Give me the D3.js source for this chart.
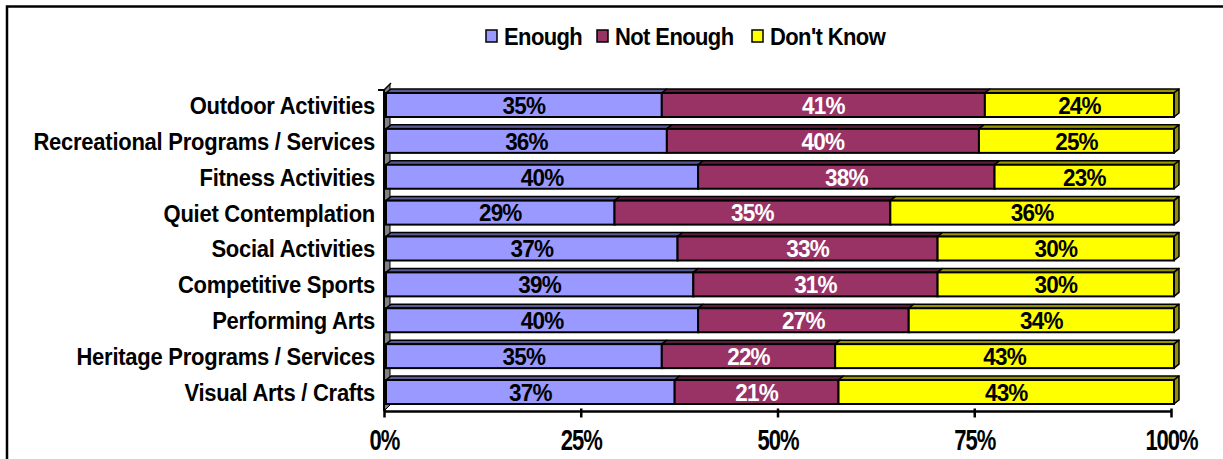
<!DOCTYPE html>
<html><head><meta charset="utf-8">
<script src="https://cdn.jsdelivr.net/npm/d3@7"></script>
<style>
body{margin:0;background:#fff}
text{font-family:"Liberation Sans",Arial,sans-serif;font-weight:bold}
</style></head>
<body><svg id="c" width="1223" height="459"></svg>
<script>
const categories = ["Outdoor Activities","Recreational Programs / Services","Fitness Activities","Quiet Contemplation","Social Activities","Competitive Sports","Performing Arts","Heritage Programs / Services","Visual Arts / Crafts"];
const enough    = [35,36,40,29,37,39,40,35,37];
const notEnough = [41,40,38,35,33,31,27,22,21];
const dontKnow  = [24,25,23,36,30,30,34,43,43];
const seriesNames = ["Enough","Not Enough","Don't Know"];
const seriesColors = ["#9999FF","#993366","#FFFF00"];
const labelColors = ["#000","#fff","#000"];
const tickValues = [0,0.25,0.5,0.75,1];

const svg = d3.select("#c");

// frame
svg.append("rect").attr("x",7).attr("y",6.5).attr("width",1240).attr("height",480)
  .attr("fill","none").attr("stroke","#000").attr("stroke-width",2.5);

const xAxisScale = d3.scaleLinear().domain([0,1]).range([384,1171]);
const xBar = d3.scaleLinear().domain([0,1]).range([386,1174]);
const y = d3.scaleBand().domain(categories).range([87.06,409.94]).paddingInner(0.331).paddingOuter(0.1655);
const dx = 5, dy = -4;

function stretchText(sel, x, yy, sy){
  sel.attr("transform",`translate(${x},${yy}) scale(1,${sy})`);
  return sel;
}

// left wall
const wall = svg.append("g");
wall.append("polygon")
  .attr("points",[[384,411],[384+6,411-6],[384+6,84],[384,90]].map(p=>p.join(",")).join(" "))
  .attr("fill","#808080").attr("stroke","#000").attr("stroke-width",1);
wall.append("line").attr("x1",384).attr("x2",384).attr("y1",90).attr("y2",411).attr("stroke","#000").attr("stroke-width",2);
wall.append("line").attr("x1",378).attr("x2",384).attr("y1",90).attr("y2",90).attr("stroke","#000").attr("stroke-width",2);
wall.append("line").attr("x1",384).attr("x2",391).attr("y1",90).attr("y2",83).attr("stroke","#000").attr("stroke-width",1.5);

const series = [enough, notEnough, dontKnow];
const rows = categories.map((c,i)=>{
  const vals = series.map(s=>s[i]);
  const sum = d3.sum(vals);
  let acc = 0;
  return vals.map((v,k)=>{ const s0 = acc/sum; acc += v; return {cat:c, k, v, x0:s0, x1:acc/sum}; });
});

const bars = svg.append("g");
rows.forEach(segs=>{
  const g = bars.append("g");
  segs.forEach(d=>{
    const yt = y(d.cat), h = y.bandwidth();
    const xa = xBar(d.x0), xb = xBar(d.x1);
    const col = d3.color(seriesColors[d.k]);
    g.append("polygon")
      .attr("points",[[xa,yt],[xa+dx,yt+dy],[xb+dx,yt+dy],[xb,yt]].map(p=>p.join(",")).join(" "))
      .attr("fill",col.darker(1.5)).attr("stroke","#000").attr("stroke-width",1.5).attr("stroke-linejoin","round");
    if(d.k===2){
      g.append("polygon")
        .attr("points",[[xb,yt],[xb+dx,yt+dy],[xb+dx,yt+h+dy],[xb,yt+h]].map(p=>p.join(",")).join(" "))
        .attr("fill",col.darker(1.6)).attr("stroke","#000").attr("stroke-width",1.5).attr("stroke-linejoin","round");
    }
  });
  segs.forEach(d=>{
    const yt = y(d.cat), h = y.bandwidth();
    g.append("rect").attr("x",xBar(d.x0)).attr("y",yt).attr("width",xBar(d.x1)-xBar(d.x0)).attr("height",h)
      .attr("fill",seriesColors[d.k]).attr("stroke","#000").attr("stroke-width",2);
  });
  segs.forEach(d=>{
    const t = g.append("text").attr("dy","0.36em").attr("text-anchor","middle").attr("font-size",22.5)
      .attr("letter-spacing","-0.8").attr("fill",labelColors[d.k]).text(d.v+"%");
    stretchText(t,(xBar(d.x0)+xBar(d.x1))/2, y(d.cat)+y.bandwidth()/2, 1.08);
  });
});

// category labels
svg.append("g").selectAll("text").data(categories).join("text")
  .attr("dy","0.36em").attr("text-anchor","end").attr("font-size",22).attr("letter-spacing","-0.25")
  .attr("transform",d=>`translate(375,${y(d)+y.bandwidth()/2}) scale(1,1.12)`).text(d=>d);

// x axis
const ax = svg.append("g").attr("transform","translate(0,411.5)")
  .call(d3.axisBottom(xAxisScale).tickValues(tickValues).tickFormat(d3.format(".0%")).tickSize(6).tickPadding(16));
ax.select(".domain").attr("stroke","#000").attr("stroke-width",2.5).attr("d","M384,0H1171");
ax.selectAll(".tick line").attr("stroke","#000").attr("stroke-width",2.5).attr("y1",-3);
ax.selectAll(".tick text").attr("font-size",22).attr("font-family",null).attr("fill","#000")
  .attr("letter-spacing","-1").attr("y",0).attr("dy","0.36em").attr("transform","translate(0,28) scale(1,1.3)");

// legend
const legX = [486, 597, 752];
const leg = svg.append("g");
seriesNames.forEach((n,i)=>{
  leg.append("rect").attr("x",legX[i]).attr("y",30).attr("width",11).attr("height",12)
    .attr("fill",seriesColors[i]).attr("stroke","#000").attr("stroke-width",1.5);
  const t = leg.append("text").attr("dy","0.36em").attr("font-size",22)
    .attr("letter-spacing","-0.6").text(n);
  stretchText(t, legX[i]+18, 36, 1.08);
});
</script></body></html>
